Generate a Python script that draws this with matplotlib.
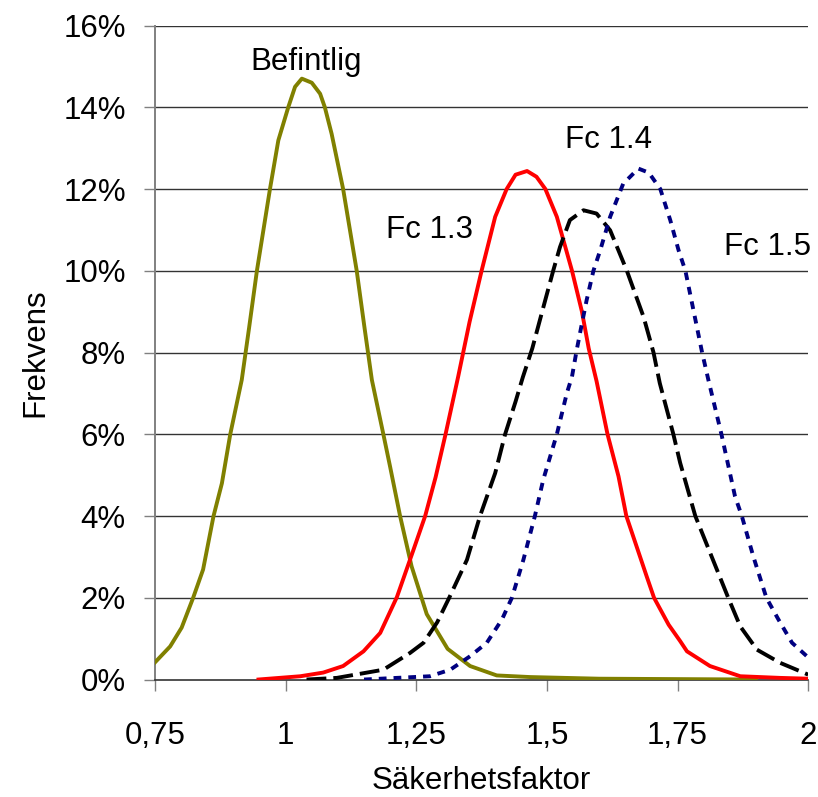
import matplotlib.pyplot as plt
from matplotlib.ticker import FuncFormatter

plt.rcParams['font.family'] = ['Liberation Sans', 'DejaVu Sans']

# Befintlig
bef_x = [0.75, 0.779, 0.801, 0.823, 0.842, 0.862, 0.878, 0.894, 0.916, 0.93, 0.945, 0.97,
         0.986, 1.005, 1.018, 1.031, 1.05, 1.066, 1.075, 1.088, 1.11, 1.136, 1.151, 1.165,
         1.187, 1.2, 1.219, 1.241, 1.27, 1.31, 1.353, 1.404, 1.468, 1.6, 1.9]
bef_y = [0.42, 0.81, 1.27, 2.0, 2.69, 4.0, 4.8, 6.0, 7.33, 8.6, 10.0, 12.0,
         13.19, 14.0, 14.5, 14.7, 14.6, 14.33, 14.0, 13.35, 12.0, 10.0, 8.6, 7.33,
         6.0, 5.2, 4.0, 2.77, 1.6, 0.75, 0.33, 0.1, 0.06, 0.02, 0.0]

# Fc 1.3
fc13_x = [0.948, 1.028, 1.072, 1.11, 1.149, 1.181, 1.213, 1.244, 1.267, 1.287, 1.306, 1.33,
          1.352, 1.375, 1.401, 1.423, 1.44, 1.462, 1.48, 1.497, 1.519, 1.548, 1.567, 1.58,
          1.595, 1.616, 1.637, 1.652, 1.691, 1.705, 1.733, 1.755, 1.768, 1.812, 1.87,
          1.946, 2.0]
fc13_y = [0.0, 0.08, 0.17, 0.33, 0.69, 1.14, 2.02, 3.15, 4.0, 4.95, 6.0, 7.4,
          8.75, 10.0, 11.32, 12.0, 12.35, 12.44, 12.3, 12.0, 11.32, 10.0, 9.0, 8.1,
          7.3, 6.0, 4.97, 4.0, 2.52, 2.0, 1.34, 0.94, 0.69, 0.33, 0.08,
          0.04, 0.02]

# Fc 1.4
fc14_x = [1.04, 1.098, 1.187, 1.238, 1.264, 1.29, 1.313, 1.347, 1.372, 1.401, 1.42, 1.44,
          1.454, 1.472, 1.493, 1.512, 1.525, 1.544, 1.57, 1.595, 1.621, 1.653, 1.685,
          1.704, 1.716, 1.742, 1.755, 1.784, 1.847, 1.87, 1.902, 1.946, 2.0]
fc14_y = [0.0, 0.04, 0.24, 0.65, 0.9, 1.4, 2.0, 2.93, 4.0, 5.05, 6.0, 6.8,
          7.4, 8.1, 9.1, 10.0, 10.58, 11.24, 11.48, 11.4, 10.99, 10.0, 8.87,
          8.0, 7.25, 6.0, 5.3, 4.0, 2.0, 1.3, 0.73, 0.41, 0.12]

# Fc 1.5
fc15_x = [1.15, 1.276, 1.315, 1.353, 1.385, 1.414, 1.433, 1.455, 1.477, 1.493, 1.519, 1.538,
          1.548, 1.557, 1.567, 1.576, 1.589, 1.602, 1.621, 1.646, 1.675, 1.695, 1.717,
          1.736, 1.752, 1.765, 1.797, 1.809, 1.834, 1.86, 1.873, 1.895, 1.92, 1.943,
          1.969, 2.0]
fc15_y = [0.0, 0.08, 0.24, 0.57, 0.9, 1.47, 2.0, 2.93, 4.0, 4.89, 6.0, 7.0,
          7.41, 8.06, 8.71, 9.28, 10.0, 10.5, 11.32, 12.13, 12.5, 12.4, 12.0,
          11.24, 10.5, 10.0, 8.0, 7.33, 6.0, 4.48, 4.0, 3.01, 2.0, 1.47,
          0.9, 0.54]

x_ticks = [0.75, 1.0, 1.25, 1.5, 1.75, 2.0]
x_ticklabels = ['0,75', '1', '1,25', '1,5', '1,75', '2']
y_ticks = [0, 2, 4, 6, 8, 10, 12, 14, 16]

fs = 22.5
fig = plt.figure(figsize=(8.18, 7.97), dpi=100)
ax = fig.add_axes([0.1895, 0.1474, 0.7985, 0.8206])

for y in y_ticks[1:]:
    ax.axhline(y, color='#333333', lw=1.0, zorder=1)

ax.plot(bef_x, bef_y, color='#808000', lw=2.8, zorder=3)
ax.plot(fc13_x, fc13_y, color='#ff0000', lw=2.8, zorder=3)
ax.plot(fc14_x, fc14_y, color='black', lw=2.8, dashes=(5.1, 1.8), zorder=4)
ax.plot(fc15_x, fc15_y, color='#000080', lw=2.8, dashes=(2.0, 1.8), zorder=4)

ax.text(1.0385, 14.9, 'Befintlig', fontsize=fs, ha='center', va='baseline')
ax.text(1.2745, 10.81, 'Fc 1.3', fontsize=fs, ha='center', va='baseline')
ax.text(1.617, 13.0, 'Fc 1.4', fontsize=fs, ha='center', va='baseline')
ax.text(1.923, 10.38, 'Fc 1.5', fontsize=fs, ha='center', va='baseline')

ax.set_xlim(0.75, 2.0)
ax.set_ylim(0, 16)
ax.set_xticks(x_ticks)
ax.set_xticklabels(x_ticklabels)
ax.set_yticks(y_ticks)
ax.yaxis.set_major_formatter(FuncFormatter(lambda v, p: f'{int(v)}%'))
ax.tick_params(axis='both', labelsize=fs, direction='out', length=8, width=1, color='#808080')
ax.tick_params(axis='y', pad=13)
ax.tick_params(axis='x', pad=22)

for s in ['top', 'right']:
    ax.spines[s].set_visible(False)
ax.spines['left'].set_color('#808080')
ax.spines['bottom'].set_color('#333333')
ax.spines['left'].set_linewidth(1.4)
ax.spines['bottom'].set_linewidth(1.2)

ax.set_xlabel('Säkerhetsfaktor', fontsize=fs, labelpad=11)
ax.set_ylabel('Frekvens', fontsize=fs, labelpad=9)

fig.savefig('out.png', dpi=100)
